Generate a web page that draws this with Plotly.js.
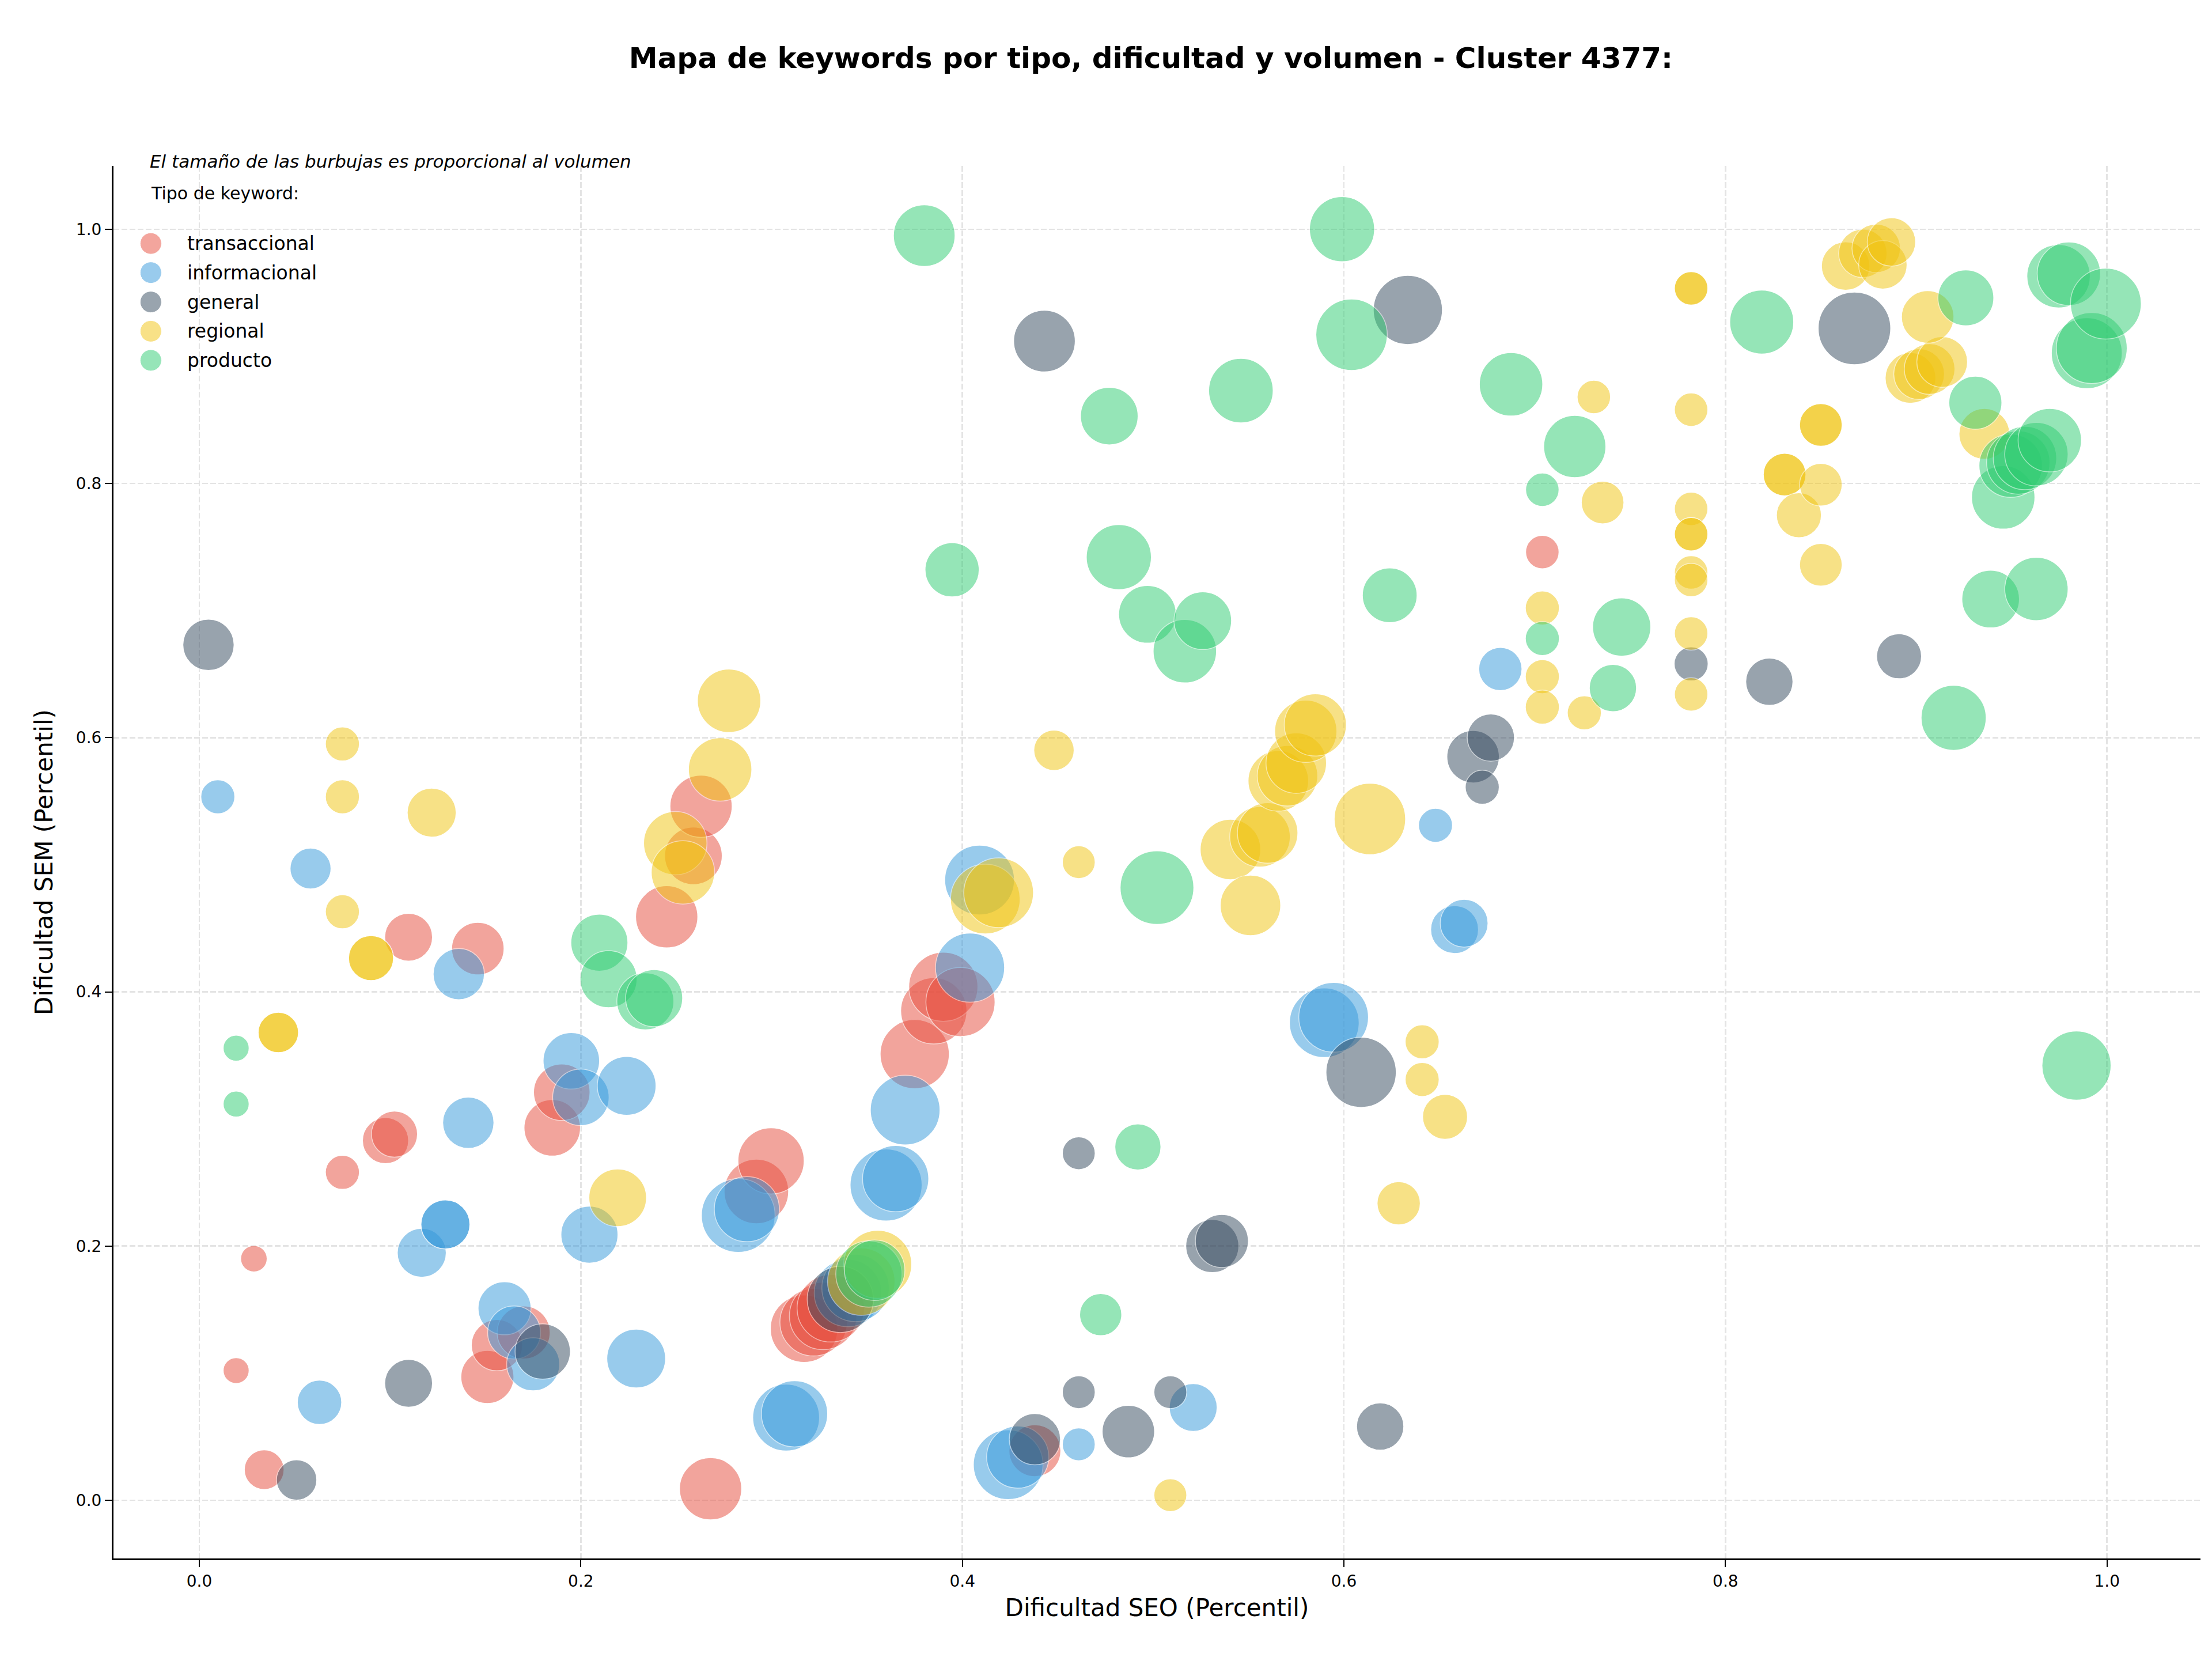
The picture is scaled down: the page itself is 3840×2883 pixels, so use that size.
<!DOCTYPE html>
<html>
<head>
<meta charset="utf-8">
<script src="https://cdn.plot.ly/plotly-3.0.1.min.js"></script>
<style>html,body{margin:0;padding:0;background:#ffffff;}</style>
</head>
<body>
<div id="chart" style="width:3840px;height:2883px;"></div>
<script>
// ---- Categories and colours ----
const categories = ['transaccional', 'informacional', 'general', 'regional', 'producto'];
const categoryColors = ['#e74c3c', '#3498db', '#34495e', '#f1c40f', '#2ecc71'];

// ---- transaccional ----
const x_transaccional = [0.0286,0.0193,0.034,0.075,0.0976,0.1023,0.1097,0.146,0.185,0.190,0.151,0.156,0.170,0.245,0.259,0.263,0.268,0.292,0.2997,0.317,0.322,0.327,0.331,0.375,0.385,0.390,0.399,0.438,0.704];
const y_transaccional = [0.190,0.102,0.024,0.258,0.283,0.288,0.443,0.434,0.293,0.321,0.097,0.122,0.132,0.459,0.507,0.546,0.009,0.243,0.267,0.135,0.140,0.145,0.151,0.351,0.385,0.404,0.392,0.039,0.746];
const vol_transaccional = [163,156,366,268,492,492,530,637,739,739,651,609,651,897,769,897,897,965,1017,1053,1053,1053,1053,1108,1017,1108,1108,623,259];

// ---- informacional ----
const x_informacional = [0.0097,0.0583,0.063,0.1166,0.129,0.129,0.136,0.141,0.160,0.165,0.175,0.195,0.200,0.2045,0.224,0.229,0.2825,0.287,0.3076,0.312,0.340,0.344,0.360,0.365,0.370,0.404,0.409,0.424,0.429,0.461,0.521,0.5897,0.5946,0.648,0.658,0.663,0.682];
const y_informacional = [0.5535,0.497,0.077,0.1947,0.217,0.217,0.414,0.297,0.151,0.132,0.107,0.3457,0.317,0.209,0.326,0.1115,0.224,0.229,0.065,0.068,0.163,0.167,0.248,0.253,0.307,0.419,0.488,0.028,0.034,0.044,0.073,0.3757,0.380,0.531,0.449,0.454,0.654];
const vol_informacional = [268,388,456,556,556,556,609,609,651,651,651,739,739,754,800,800,1260,982,1035,1017,1053,1053,1202,1017,1126,1108,1126,1126,897,250,530,1126,1126,268,530,530,433];

// ---- general ----
const x_general = [0.0048,0.051,0.1097,0.180,0.336,0.438,0.443,0.461,0.461,0.487,0.509,0.531,0.536,0.609,0.619,0.6335,0.6677,0.6725,0.677,0.782,0.823,0.8676,0.891];
const y_general = [0.673,0.016,0.092,0.117,0.158,0.048,0.912,0.273,0.085,0.054,0.085,0.200,0.204,0.3367,0.058,0.9365,0.585,0.561,0.600,0.658,0.644,0.922,0.664];
const vol_general = [609,377,530,709,1017,609,881,250,250,637,250,651,651,1145,517,1108,637,268,517,268,517,1221,468];

// ---- regional ----
const x_regional = [0.0414,0.0414,0.075,0.075,0.075,0.090,0.090,0.1218,0.2193,0.2495,0.2535,0.273,0.2777,0.347,0.3556,0.412,0.419,0.448,0.461,0.509,0.5405,0.551,0.556,0.560,0.5656,0.5704,0.575,0.580,0.585,0.6136,0.6287,0.641,0.641,0.653,0.704,0.704,0.704,0.726,0.731,0.7356,0.782,0.782,0.782,0.782,0.782,0.782,0.782,0.782,0.782,0.782,0.831,0.831,0.8385,0.850,0.850,0.850,0.850,0.863,0.872,0.879,0.8825,0.887,0.897,0.9015,0.907,0.9136,0.906,0.9357];
const y_regional = [0.368,0.368,0.595,0.5535,0.463,0.4265,0.4265,0.541,0.238,0.517,0.494,0.575,0.629,0.172,0.1856,0.473,0.478,0.590,0.502,0.004,0.512,0.468,0.522,0.525,0.566,0.570,0.580,0.605,0.610,0.536,0.2337,0.3607,0.331,0.3017,0.702,0.648,0.624,0.6195,0.868,0.785,0.9535,0.9535,0.858,0.780,0.760,0.760,0.730,0.724,0.682,0.634,0.807,0.807,0.775,0.846,0.846,0.799,0.736,0.971,0.981,0.985,0.972,0.990,0.883,0.886,0.890,0.8956,0.931,0.839];
const vol_regional = [377,377,268,268,268,468,468,556,769,931,931,931,931,1053,1071,1126,1126,377,250,250,848,848,848,848,848,848,848,897,897,1183,433,268,268,468,268,268,268,268,259,421,259,259,259,259,259,259,259,259,259,259,421,421,468,421,421,421,421,543,543,543,543,543,596,596,596,596,637,596];

// ---- producto ----
const x_producto = [0.0193,0.0193,0.2097,0.2145,0.2338,0.2384,0.351,0.354,0.380,0.3946,0.4725,0.477,0.482,0.492,0.497,0.502,0.5166,0.526,0.546,0.599,0.604,0.624,0.6876,0.704,0.704,0.721,0.741,0.7456,0.819,0.9196,0.926,0.931,0.939,0.9456,0.9495,0.9535,0.957,0.963,0.963,0.970,0.9746,0.980,0.984,0.9894,0.992,0.9994];
const y_producto = [0.3557,0.3117,0.4387,0.410,0.3925,0.395,0.178,0.181,0.995,0.732,0.146,0.853,0.742,0.278,0.697,0.482,0.668,0.692,0.873,1.000,0.917,0.712,0.878,0.795,0.678,0.829,0.639,0.687,0.927,0.6156,0.946,0.8635,0.709,0.789,0.814,0.8165,0.820,0.823,0.717,0.834,0.963,0.965,0.342,0.9025,0.9065,0.9415];
const vol_producto = [156,156,754,754,754,754,1017,848,881,680,410,769,982,492,769,1260,931,769,965,982,1183,694,931,259,268,897,517,785,948,982,724,651,769,931,931,931,931,931,931,931,931,931,1108,1164,1164,1164];

// ---- Axis ticks ----
const tickValues = [0, 0.2, 0.4, 0.6, 0.8, 1.0];
const tickLabels = ['0.0', '0.2', '0.4', '0.6', '0.8', '1.0'];

const seriesX = [x_transaccional, x_informacional, x_general, x_regional, x_producto];
const seriesY = [y_transaccional, y_informacional, y_general, y_regional, y_producto];
const seriesV = [vol_transaccional, vol_informacional, vol_general, vol_regional, vol_producto];

function hexToRgba(hex, a) {
  const r = parseInt(hex.slice(1,3),16), g = parseInt(hex.slice(3,5),16), b = parseInt(hex.slice(5,7),16);
  return 'rgba(' + r + ',' + g + ',' + b + ',' + a + ')';
}

const traces = categories.map(function(cat, i) {
  return {
    type: 'scatter',
    mode: 'markers',
    name: cat,
    x: seriesX[i],
    y: seriesY[i],
    hoverinfo: 'skip',
    marker: {
      size: seriesV[i],
      sizemode: 'area',
      sizeref: 2 / 13,
      color: categoryColors[i],
      opacity: 0.5,
      line: { color: '#ffffff', width: 1.5 }
    }
  };
});

// legend drawn by hand (matplotlib-like, no frame)
const legendY = [0.9443, 0.9234, 0.9023, 0.8813, 0.8604];
const shapes = categories.map(function(cat, i) {
  return {
    type: 'circle', xref: 'paper', yref: 'paper',
    xsizemode: 'pixel', ysizemode: 'pixel',
    xanchor: 0.0179, yanchor: legendY[i],
    x0: -18.5, x1: 18.5, y0: -18.5, y1: 18.5,
    fillcolor: hexToRgba(categoryColors[i], 0.5),
    line: { color: '#ffffff', width: 1 },
    layer: 'above'
  };
});

const annotations = [
  { xref: 'paper', yref: 'paper', x: 0.0168, y: 1.0033, xanchor: 'left', yanchor: 'middle',
    text: '<i>El tamaño de las burbujas es proporcional al volumen</i>', showarrow: false,
    font: { size: 31, color: '#000000', family: 'DejaVu Sans' } },
  { xref: 'paper', yref: 'paper', x: 0.0174, y: 0.9805, xanchor: 'left', yanchor: 'middle',
    text: 'Tipo de keyword:', showarrow: false,
    font: { size: 30, color: '#000000', family: 'DejaVu Sans' } }
].concat(categories.map(function(cat, i) {
  return { xref: 'paper', yref: 'paper', x: 0.0349, y: legendY[i], xanchor: 'left', yanchor: 'middle',
    text: cat, showarrow: false, font: { size: 33, color: '#000000', family: 'DejaVu Sans' } };
}));

const axisCommon = {
  tickvals: tickValues,
  ticktext: tickLabels,
  showgrid: true,
  gridcolor: '#e4e4e4',
  gridwidth: 2.5,
  griddash: '10px,4px',
  zeroline: false,
  showline: true,
  linecolor: '#000000',
  linewidth: 3,
  mirror: false,
  ticks: 'outside',
  ticklen: 12,
  tickwidth: 2,
  tickcolor: '#000000',
  tickfont: { size: 28, color: '#000000', family: 'DejaVu Sans' },
  automargin: false
};

const layout = {
  width: 3840,
  height: 2883,
  paper_bgcolor: '#ffffff',
  plot_bgcolor: '#ffffff',
  font: { family: 'DejaVu Sans', color: '#000000' },
  margin: { l: 197, r: 20, t: 288, b: 178, pad: 0 },
  showlegend: false,
  hovermode: false,
  title: {
    text: '<b>Mapa de keywords por tipo, dificultad y volumen - Cluster 4377:</b>',
    font: { size: 50, family: 'DejaVu Sans', color: '#000000' },
    xref: 'container', x: 0.5203, xanchor: 'center',
    yref: 'container', y: 1 - 100 / 2883, yanchor: 'middle'
  },
  xaxis: Object.assign({}, axisCommon, {
    range: [-0.045, 1.049],
    title: { text: 'Dificultad SEO (Percentil)', font: { size: 42, family: 'DejaVu Sans', color: '#000000' }, standoff: 16 }
  }),
  yaxis: Object.assign({}, axisCommon, {
    range: [-0.0458, 1.0498],
    title: { text: 'Dificultad SEM (Percentil)', font: { size: 42, family: 'DejaVu Sans', color: '#000000' }, standoff: 28 }
  }),
  shapes: shapes,
  annotations: annotations
};

Plotly.newPlot('chart', traces, layout, { staticPlot: true, displayModeBar: false });
</script>
</body>
</html>
